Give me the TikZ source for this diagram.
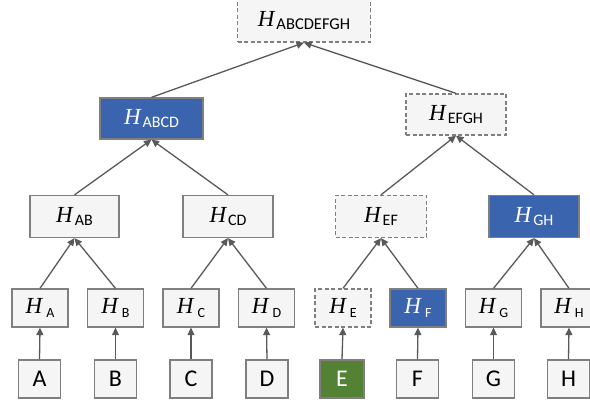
\documentclass[tikz,border=0pt]{standalone}
\usepackage{fontspec}
\setmainfont{Carlito}
\newfontfamily\hfont{Liberation Serif}
\usetikzlibrary{arrows.meta}
\definecolor{boxfill}{HTML}{F5F5F5}
\definecolor{boxline}{HTML}{7F7F7F}
\definecolor{bluefill}{HTML}{3A65AE}
\definecolor{greenfill}{HTML}{548235}
\definecolor{arrowc}{HTML}{595959}
\newcommand\HX[4]{{\fontsize{23}{23}\selectfont\hfont\itshape H}\kern#4pt\raisebox{-#1pt}{\fontsize{#2}{#2}\selectfont #3}}
\begin{document}
\begin{tikzpicture}[x=1pt,y=-1pt,
  hbox/.style={draw=boxline, fill=boxfill, line width=1.3pt, inner sep=0pt, minimum height=41pt},
  dbox/.style={hbox, dash pattern=on 4pt off 2.5pt},
  bbox/.style={hbox, fill=bluefill, text=white},
  lbox/.style={hbox, minimum width=42pt, minimum height=38pt, font=\fontsize{24}{24}\selectfont},
  rbox/.style={minimum width=56pt, minimum height=38pt},
  arr/.style={draw=arrowc, line width=1.3pt, -{Triangle[length=7.5pt,width=7pt]}}]
\useasboundingbox (0,0) rectangle (590,406);
\clip (0,0) rectangle (590,406);
% level 1
\node[dbox, minimum width=133pt, minimum height=43pt] (top) at (304,20.5) {\HX{3}{16.5}{ABCDEFGH}{2}};
% level 2
\node[bbox, minimum width=103pt] (abcd) at (151.5,118.5) {\HX{3}{16}{ABCD}{2}};
\node[dbox, minimum width=100pt] (efgh) at (456,114.5) {\HX{3}{16}{EFGH}{2}};
% level 3
\node[hbox, minimum width=89pt, minimum height=42pt] (ab) at (74.5,216.5) {\HX{3}{16}{AB}{2}};
\node[hbox, minimum width=90pt, minimum height=42pt] (cd) at (228,216.5) {\HX{3}{16}{CD}{2}};
\node[dbox, minimum width=91pt, minimum height=42pt] (ef) at (381,216.5) {\HX{3}{16}{EF}{2}};
\node[bbox, minimum width=90pt, minimum height=42pt] (gh) at (534,216.5) {\HX{3}{16}{GH}{2}};
% level 4
\node[hbox, rbox] (ha) at (40,308) {\HX{4}{14}{A}{4}};
\node[hbox, rbox] (hb) at (115.5,308) {\HX{4}{14}{B}{4}};
\node[hbox, rbox] (hc) at (191,308) {\HX{4}{14}{C}{4}};
\node[hbox, rbox] (hd) at (266.5,308) {\HX{4}{14}{D}{4}};
\node[dbox, rbox] (he) at (343,308) {\HX{4}{14}{E}{4}};
\node[bbox, rbox] (hf) at (418,308) {\HX{4}{14}{F}{4}};
\node[hbox, rbox] (hg) at (493.5,308) {\HX{4}{14}{G}{4}};
\node[hbox, rbox] (hh) at (569,308) {\HX{4}{14}{H}{4}};
% leaves
\node[lbox] (a) at (39.5,379) {A};
\node[lbox] (b) at (115.5,379) {B};
\node[lbox] (c) at (191,379) {C};
\node[lbox] (d) at (267,379) {D};
\node[lbox, fill=greenfill, text=white, minimum width=44pt] (e) at (342,379) {E};
\node[lbox] (f) at (417.5,379) {F};
\node[lbox] (g) at (493.5,379) {G};
\node[lbox] (h) at (568.5,379) {H};
% arrows
\foreach \c/\p in {a/ha,b/hb,c/hc,d/hd,e/he,f/hf,g/hg,h/hh,
  ha/ab,hb/ab,hc/cd,hd/cd,he/ef,hf/ef,hg/gh,hh/gh,
  ab/abcd,cd/abcd,ef/efgh,gh/efgh,abcd/top,efgh/top}
  \draw[arr] (\c.north) -- (\p.south);
\end{tikzpicture}
\end{document}
